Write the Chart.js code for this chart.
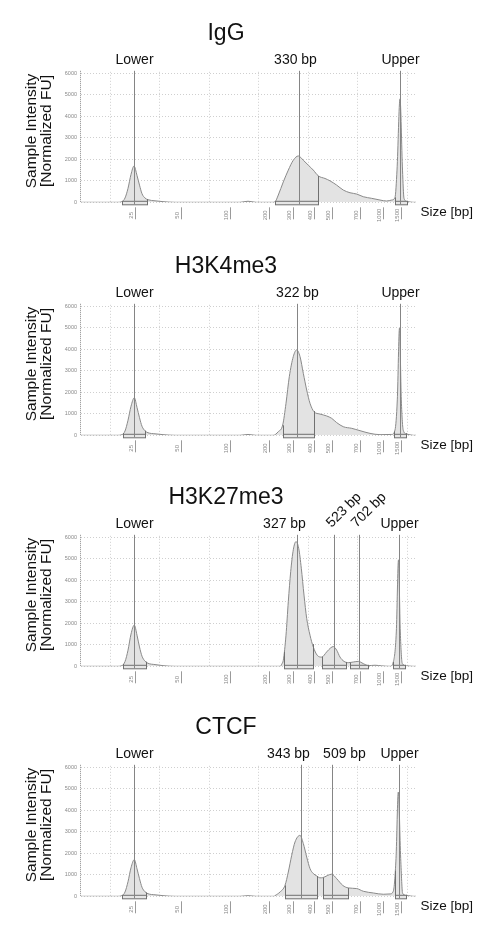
<!DOCTYPE html>
<html>
<head>
<meta charset="utf-8">
<script src="https://cdn.jsdelivr.net/npm/chart.js@4.4.0/dist/chart.umd.min.js"></script>
<style>
  html, body { margin: 0; padding: 0; background: #fff; }
  body { width: 500px; height: 939px; position: relative; overflow: hidden; }
  .panel { position: absolute; left: 0; width: 500px; height: 235px; }
</style>
</head>
<body>
<div class="panel" style="top:0px"><canvas id="c1"></canvas></div>
<div class="panel" style="top:233px"><canvas id="c2"></canvas></div>
<div class="panel" style="top:464px"><canvas id="c3"></canvas></div>
<div class="panel" style="top:694px"><canvas id="c4"></canvas></div>
<script>
// x values are run positions (migration units), sizes come from the ladder
const ladderPos = [54, 100, 148.5, 188, 212, 232.5, 250.5, 279, 302, 320];
const ladderBp = ['25', '50', '100', '200', '300', '400', '500', '700', '1000', '1500'];
const gridPos = [29, 78.5, 128, 177.5, 227, 276.5, 326];
const fuTicks = [0, 1000, 2000, 3000, 4000, 5000, 6000];

// IgG
const iggPos = [0, 37, 41, 44, 47, 50, 53, 56, 58.5, 61, 64, 67, 74, 82, 94, 159, 167, 175,
  192, 194, 197.3, 202.3, 207.3, 212.3, 217.3, 222.3, 227.3, 232.3, 237.3, 244, 249, 255.7, 262.3,
  269, 275.7, 282.3, 290.7, 299, 305.7, 310.7, 314, 316, 319, 321.5, 323, 326, 332, 335];
const iggFU = [0, 0, 30, 200, 650, 1300, 1690, 1250, 800, 400, 200, 120, 70, 30, 0, 0, 50, 0,
  0, 20, 340, 950, 1500, 1960, 2160, 1960, 1730, 1500, 1230, 1110, 1000, 800, 570,
  445, 385, 260, 185, 105, 60, 105, 230, 1500, 4820, 1500, 185, 40, 0, 0];
const iggPeaks = [53, 218, 319];
const iggPeakLabels = ['Lower', '330 bp', 'Upper'];
const iggRegions = [[41.3, 65.7], [194, 237.3], [314, 326.3]];

// H3K4me3
const k4Pos = [0, 37, 41, 44, 47, 50, 53.3, 56, 58.5, 61, 64, 67, 74, 82, 94, 159, 167, 175,
  192.3, 197.3, 201.7, 205, 208.3, 212.3, 215.7, 219, 222.3, 225.7, 229, 233, 239, 245.7, 250.7,
  255.7, 262.3, 270.7, 279, 289, 299, 310.7, 314, 316.3, 318.5, 320.3, 322.3, 325.7, 332.3, 335];
const k4FU = [0, 0, 30, 200, 700, 1350, 1750, 1300, 820, 420, 210, 120, 70, 30, 0, 0, 40, 0,
  0, 170, 480, 1490, 2730, 3670, 3980, 3670, 2890, 2110, 1490, 1100, 990, 900, 790,
  590, 400, 325, 215, 90, 30, 40, 250, 1650, 5000, 1650, 230, 60, 0, 0];
const k4Peaks = [53.3, 215.7, 318.5];
const k4PeakLabels = ['Lower', '322 bp', 'Upper'];
const k4Regions = [[42.3, 64], [201.5, 232.7], [313, 325]];

// H3K27me3
const k27Pos = [0, 37, 41, 44, 47, 50, 53.3, 56, 58.5, 61, 64, 67, 74, 82, 94,
  199.3, 200.7, 202.3, 205, 207.3, 209.7, 212.3, 215, 217.7, 220.3, 223, 225.7, 229, 232.3,
  236.3, 240.7, 245.7, 249.7, 252.3, 255.7, 259, 263, 267.3, 272.3, 277.3, 282.3, 287.3,
  294, 300.7, 309, 312.3, 315.3, 317.5, 319.3, 321.3, 325.7, 332, 335];
const k27FU = [0, 0, 30, 220, 750, 1500, 1920, 1450, 900, 470, 240, 140, 80, 30, 0,
  0, 100, 280, 1450, 3010, 4410, 5430, 5810, 5500, 4570, 3320, 2230, 1450, 900,
  510, 430, 670, 860, 920, 750, 430, 230, 170, 200, 230, 125, 30,
  50, 20, 0, 200, 1600, 4960, 1600, 130, 20, 0, 0];
const k27Peaks = [53.3, 215.7, 253, 278, 317.5];
const k27PeakLabels = ['Lower', '327 bp', '523 bp', '702 bp', 'Upper'];
const k27Regions = [[42.3, 64.7], [203.2, 231.5], [241, 265], [269, 287.3], [312.3, 324]];

// CTCF
const ctcfPos = [0, 37, 41, 44, 47, 50, 53.3, 56, 58.5, 61, 64, 67, 74, 82, 94, 159, 167, 175,
  193, 194, 199, 204, 207.3, 210.7, 214, 219, 222.3, 225.7, 229, 232.3, 235.7, 239, 241.7,
  250.7, 255.7, 261.7, 267.3, 275.7, 282.3, 292.3, 302.3, 309, 312.3, 315, 317.3, 319.7,
  321.7, 327.3, 332, 335];
const ctcfFU = [0, 0, 30, 200, 680, 1330, 1710, 1280, 820, 420, 210, 120, 70, 30, 0, 0, 30, 0,
  0, 30, 200, 510, 1130, 1910, 2530, 2840, 2460, 1830, 1290, 1060, 950, 860, 870,
  1030, 820, 510, 390, 360, 235, 155, 95, 110, 235, 1760, 4860, 1760,
  125, 30, 0, 0];
const ctcfPeaks = [53.3, 219.7, 251.3, 317.5];
const ctcfPeakLabels = ['Lower', '343 bp', '509 bp', 'Upper'];
const ctcfRegions = [[41.3, 65], [204, 236], [241.5, 267.3], [314, 325]];

const FONT = "'Liberation Sans', Arial, sans-serif";

function curveAt(pos, fu, v) {
  for (let i = 1; i < pos.length; i++) {
    if (v <= pos[i]) {
      const t = (v - pos[i - 1]) / (pos[i] - pos[i - 1]);
      return fu[i - 1] + t * (fu[i] - fu[i - 1]);
    }
  }
  return 0;
}

const tapePlugin = {
  id: 'tape',
  afterDatasetsDraw(chart, args, o) {
    const {ctx, chartArea: a, scales: {x, y}} = chart;
    const base = y.getPixelForValue(0);
    const snap = v => Math.round(v) + 0.5;
    ctx.save();

    // dotted y axis line
    ctx.strokeStyle = '#8c8c8c';
    ctx.lineWidth = 1;
    ctx.setLineDash([1, 1]);
    ctx.beginPath();
    ctx.moveTo(snap(a.left) - 1, a.top - 1);
    ctx.lineTo(snap(a.left) - 1, base);
    ctx.stroke();
    ctx.setLineDash([]);

    // integration regions
    o.regions.forEach(([s, e]) => {
      const x1 = snap(x.getPixelForValue(s)), x2 = snap(x.getPixelForValue(e));
      ctx.fillStyle = '#e6e6e6';
      ctx.strokeStyle = '#707070';
      ctx.fillRect(x1, base - 1, x2 - x1, 3.5);
      ctx.strokeRect(x1, base - 1, x2 - x1, 3.5);
      [x1, x2].forEach((px, k) => {
        const h = curveAt(o.pos, o.fu, k ? e : s);
        ctx.beginPath();
        ctx.moveTo(px, base);
        ctx.lineTo(px, y.getPixelForValue(h));
        ctx.stroke();
      });
    });

    // peak markers
    o.peaks.forEach((p, i) => {
      const px = snap(x.getPixelForValue(p));
      ctx.strokeStyle = '#858585';
      ctx.beginPath();
      ctx.moveTo(px, a.top - 1);
      ctx.lineTo(px, base + 2);
      ctx.stroke();
      ctx.font = '14px ' + FONT;
      ctx.fillStyle = '#111';
      if (o.tilt && o.tilt[i]) {
        ctx.save();
        ctx.translate(px - 3, 64);
        ctx.rotate(-Math.PI / 4);
        ctx.textAlign = 'left';
        ctx.textBaseline = 'alphabetic';
        ctx.fillText(o.labels[i], 0, 0);
        ctx.restore();
      } else {
        ctx.textAlign = 'center';
        ctx.textBaseline = 'middle';
        ctx.fillText(o.labels[i], px + (o.shift ? o.shift[i] : 0), 60.5);
      }
    });

    // size ladder ticks
    ladderPos.forEach((p, i) => {
      const px = snap(x.getPixelForValue(p));
      ctx.strokeStyle = '#9a9a9a';
      ctx.beginPath();
      ctx.moveTo(px, base + 5);
      ctx.lineTo(px, base + 17);
      ctx.stroke();
      ctx.save();
      ctx.translate(px - 4, base + 13);
      ctx.rotate(-Math.PI / 2);
      ctx.font = '6px ' + FONT;
      ctx.fillStyle = '#8a8a8a';
      ctx.textAlign = 'center';
      ctx.textBaseline = 'middle';
      ctx.fillText(ladderBp[i], 0, 0);
      ctx.restore();
    });

    ctx.fillStyle = '#111';
    ctx.font = '13.5px ' + FONT;
    ctx.textAlign = 'left';
    ctx.textBaseline = 'middle';
    ctx.fillText('Size [bp]', a.right + 4.5, base + 10);

    ctx.font = '23px ' + FONT;
    ctx.textAlign = 'center';
    ctx.fillText(o.title, 226, 33.5);

    ctx.save();
    ctx.translate(0, 131);
    ctx.rotate(-Math.PI / 2);
    ctx.font = '15.5px ' + FONT;
    ctx.fillText('Sample Intensity', 0, 31.7);
    ctx.fillText('[Normalized FU]', 0, 46.7);
    ctx.restore();

    ctx.restore();
  }
};

function makeChart(id, title, pos, fu, peaks, labels, regions, extra) {
  const pts = pos.map((p, i) => ({x: p, y: fu[i]}));
  return new Chart(document.getElementById(id), {
    type: 'line',
    data: {
      datasets: [{
        data: pts,
        borderColor: '#8a8a8a',
        borderWidth: 1,
        backgroundColor: '#e3e3e3',
        fill: 'origin',
        pointRadius: 0,
        cubicInterpolationMode: 'monotone'
      }]
    },
    options: {
      responsive: true,
      maintainAspectRatio: false,
      animation: false,
      layout: {padding: {top: 71.8, right: 84, bottom: 0, left: 0}},
      plugins: {
        legend: {display: false},
        tooltip: {enabled: false},
        tape: Object.assign({title, pos, fu, peaks, labels, regions}, extra || {})
      },
      scales: {
        x: {
          type: 'linear',
          min: 0,
          max: 335,
          afterBuildTicks: s => { s.ticks = gridPos.map(v => ({value: v})); },
          afterFit: s => { s.height = 32.7; },
          ticks: {display: false},
          grid: {color: '#cfcfcf', drawTicks: false},
          border: {display: false, dash: [1, 2]}
        },
        y: {
          min: 0,
          max: 6080,
          afterBuildTicks: s => { s.ticks = fuTicks.map(v => ({value: v})); },
          afterFit: s => { s.width = 81; },
          ticks: {
            padding: 4,
            color: '#8a8a8a',
            font: {size: 5.5, family: FONT},
            callback: v => String(v)
          },
          grid: {color: '#cfcfcf', drawTicks: false},
          border: {display: false, dash: [1, 2]}
        }
      }
    },
    plugins: [tapePlugin]
  });
}

makeChart('c1', 'IgG', iggPos, iggFU, iggPeaks, iggPeakLabels, iggRegions, {shift: [0, -4, 0]});
makeChart('c2', 'H3K4me3', k4Pos, k4FU, k4Peaks, k4PeakLabels, k4Regions);
makeChart('c3', 'H3K27me3', k27Pos, k27FU, k27Peaks, k27PeakLabels, k27Regions,
  {shift: [0, -13, 0, 0, 0], tilt: [false, false, true, true, false]});
makeChart('c4', 'CTCF', ctcfPos, ctcfFU, ctcfPeaks, ctcfPeakLabels, ctcfRegions,
  {shift: [0, -13, 12, 0]});
</script>
</body>
</html>
